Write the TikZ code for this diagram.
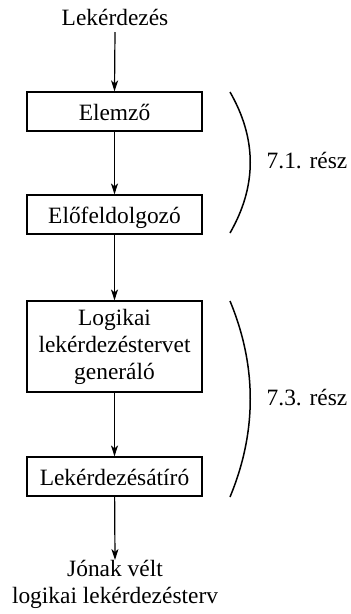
\documentclass[tikz,border=0pt]{standalone}
\usepackage{fontspec}
\setmainfont{Liberation Serif}
\usetikzlibrary{arrows.meta}
\begin{document}
\begin{tikzpicture}[x=1pt,y=-1pt,
  every node/.style={font=\fontsize{23.4}{27}\selectfont},
  stage/.style={draw,line width=1.2pt,minimum width=175pt,inner sep=0pt,align=center},
  single/.style={stage,minimum height=39pt,text height=17pt,text depth=0pt},
  plain/.style={inner sep=0pt,align=center},
  flow/.style={line width=1.2pt,-{Stealth[length=11pt,width=7pt,inset=3pt]}},
  brace/.style={line width=1.5pt}]
\useasboundingbox (0,0) rectangle (351,614);

% processing stages
\node[plain,anchor=base] (query) at (115,25) {Lekérdezés};
\node[single] (parser) at (114.5,111.5) {Elemző};
\node[single] (prep) at (114.5,214.5) {Előfeldolgozó};
\node[stage,minimum height=91pt] (gen) at (114.5,346.5) {Logikai\\lekérdezéstervet\\generáló};
\node[single] (rewrite) at (114.5,476.5) {Lekérdezésátíró};
\node[plain,anchor=north] (plan) at (115,560) {Jónak vélt\\logikai lekérdezésterv};

% arrows between the stages
\draw[flow] (query.south |- 0,32) -- (parser.north);
\draw[flow] (parser) -- (prep);
\draw[flow] (prep) -- (gen);
\draw[flow] (gen) -- (rewrite);
\draw[flow] (rewrite) -- (plan.north);

% section brackets
\coordinate (b1s) at (230,92);
\coordinate (b1e) at (230,233);
\coordinate (b2s) at (230,301);
\coordinate (b2e) at (230,497);
\draw[brace] (b1s) .. controls (257,139) and (257,186) .. (b1e);
\draw[brace] (b2s) .. controls (257,366) and (257,432) .. (b2e);
\node[plain,anchor=base] (sec1) at (307,168) {7.1. rész};
\node[plain,anchor=base] (sec3) at (307,405) {7.3. rész};
\end{tikzpicture}
\end{document}
